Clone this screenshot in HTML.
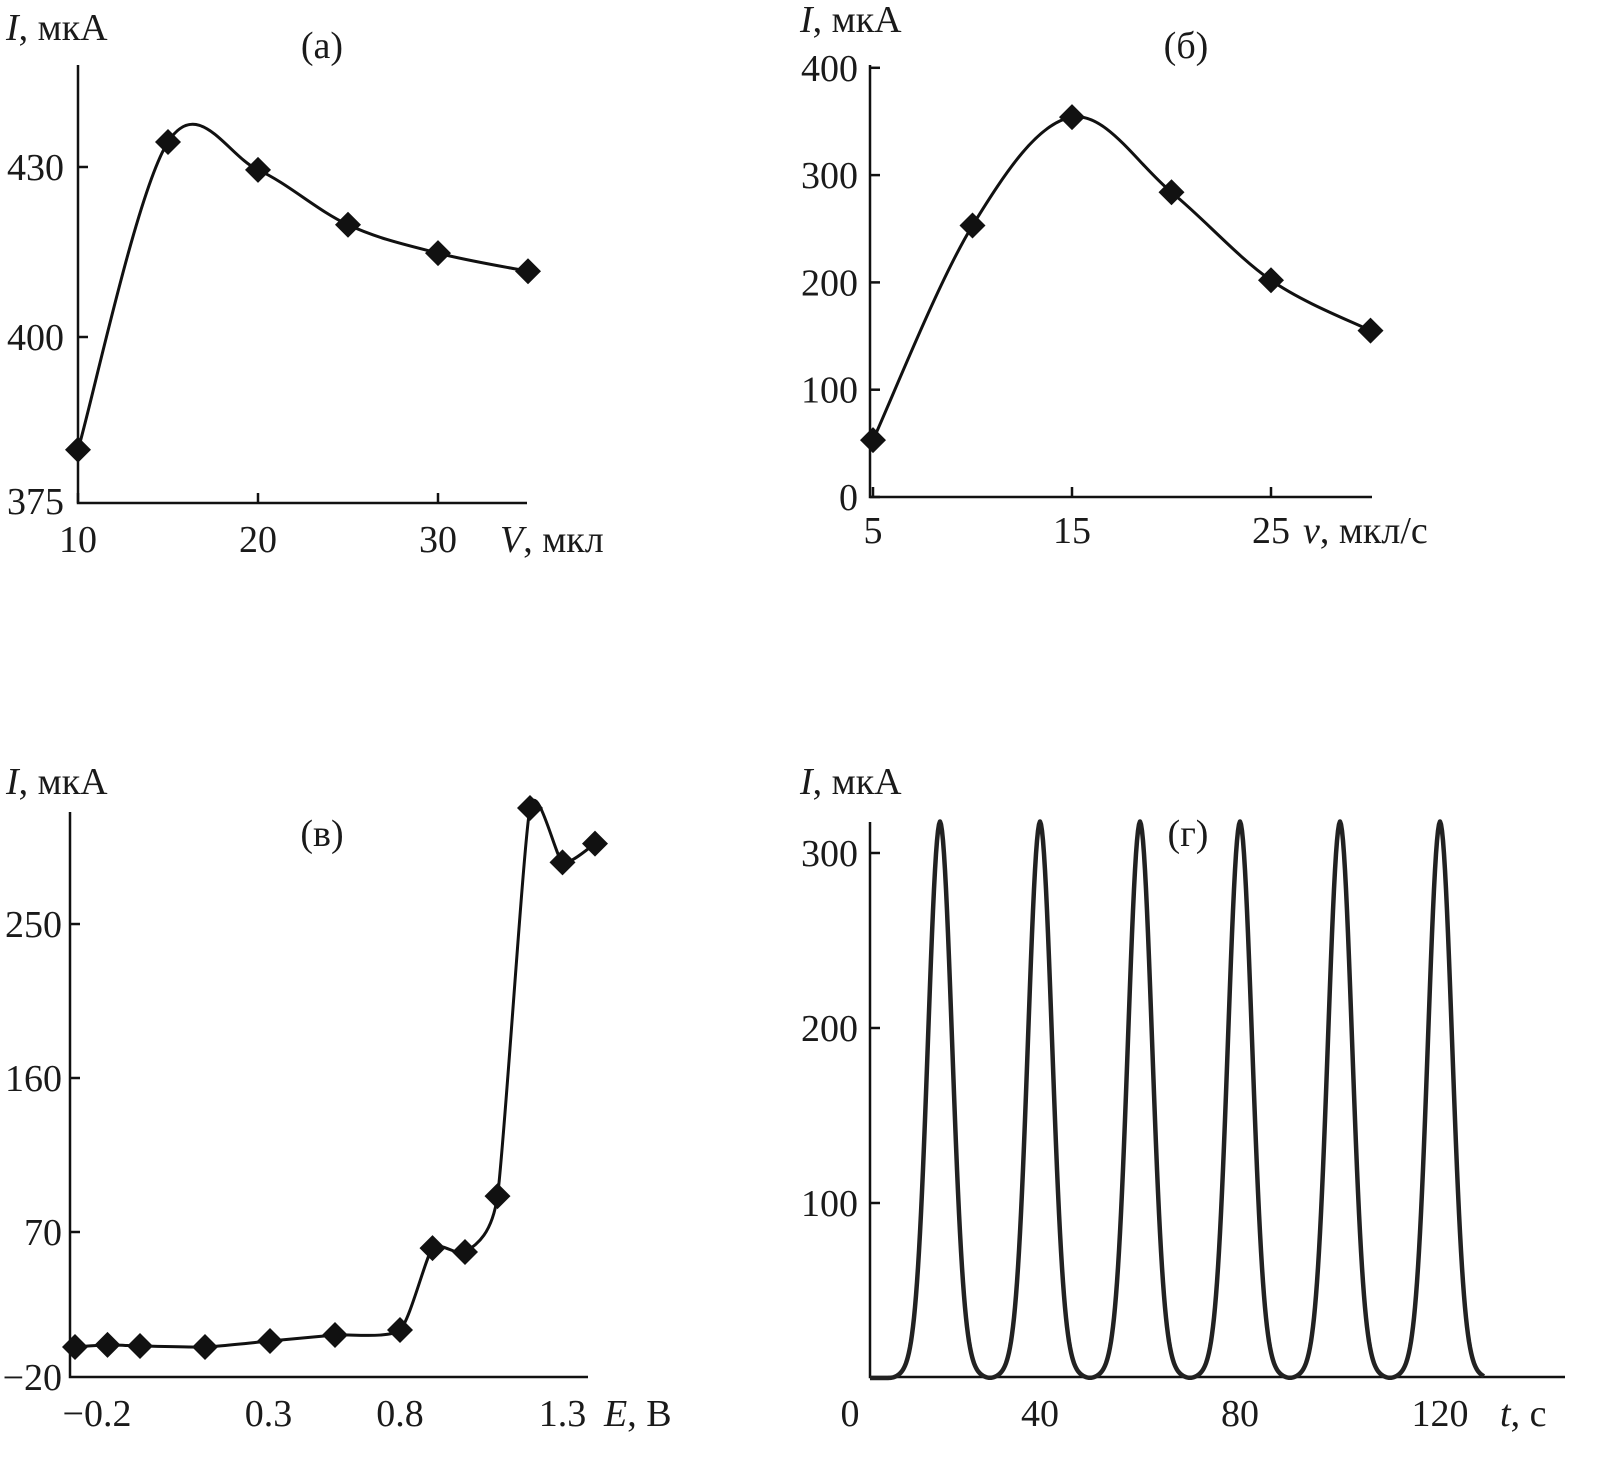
<!DOCTYPE html>
<html><head><meta charset="utf-8">
<style>
html,body{margin:0;padding:0;background:#fff;}
svg{display:block;}
text{font-family:"Liberation Serif",serif;font-size:38px;fill:#1a1a1a;}
.it{font-style:italic;}
</style></head>
<body>
<svg id="chart" width="1600" height="1466" viewBox="0 0 1600 1466" xmlns="http://www.w3.org/2000/svg"></svg>
<script>
// Panel (a)
const aX = [10, 15, 20, 25, 30, 35];
const aY = [380.1, 434.4, 429.5, 419.8, 414.8, 411.6];
const aXTicks = [10, 20, 30];
const aYTicks = [430, 400];
// Panel (б)
const bX = [5, 10, 15, 20, 25, 30];
const bY = [53, 253, 354, 284, 202, 155];
const bXTicks = [5, 15, 25];
const bYTicks = [0, 100, 200, 300, 400];
// Panel (в)
const cX = [-0.2, -0.1, 0, 0.2, 0.4, 0.6, 0.8, 0.9, 1.0, 1.1, 1.2, 1.3, 1.4];
const cY = [2.8, 4, 3.4, 2.8, 6.3, 9.8, 12.7, 60.6, 58.3, 91, 317.8, 286, 297];
const cXTicks = [-0.2, 0.3, 0.8, 1.3];
const cYTicks = [250, 160, 70, -20];
// Panel (г)
const dPeakTimes = [20, 40, 60, 80, 100, 120];
const dPeakHeights = [318, 318, 318, 318, 318, 318];
const dXTicks = [0, 40, 80, 120];
const dYTicks = [100, 200, 300];

const svg = document.getElementById('chart');
const NS = 'http://www.w3.org/2000/svg';
function mk(tag, attrs, parent){
  const e = document.createElementNS(NS, tag);
  for (const k in attrs) e.setAttribute(k, attrs[k]);
  (parent||svg).appendChild(e);
  return e;
}
function txt(s, x, y, anchor, cls, parent){
  const t = mk('text', {x:x, y:y, 'text-anchor':anchor||'middle'}, parent);
  if (cls) t.setAttribute('class', cls);
  t.textContent = s;
  return t;
}
function smooth(pts, t){
  let d = 'M' + pts[0][0] + ',' + pts[0][1];
  for (let i=0;i<pts.length-1;i++){
    const p0 = pts[i-1]||pts[i], p1=pts[i], p2=pts[i+1], p3=pts[i+2]||p2;
    const c1=[p1[0]+(p2[0]-p0[0])*t, p1[1]+(p2[1]-p0[1])*t];
    const c2=[p2[0]-(p3[0]-p1[0])*t, p2[1]-(p3[1]-p1[1])*t];
    d += ' C'+c1[0]+','+c1[1]+' '+c2[0]+','+c2[1]+' '+p2[0]+','+p2[1];
  }
  return d;
}
function diamond(x,y,g){
  const r=13;
  const p = mk('polygon',{points:`${x},${y-r} ${x+r},${y} ${x},${y+r} ${x-r},${y}`, fill:'#111'}, g);
  
  
}
function axes(g, x0, yTop, yBot, xEnd){
  mk('path',{d:`M${x0},${yTop} L${x0},${yBot} L${xEnd},${yBot}`, fill:'none', stroke:'#111','stroke-width':2.5}, g);
}

// ---------- Panel a ----------
(function(){
  const g = mk('g',{});
  
  
  const sx = v => 78 + (v-10)*18.0;
  const sy = v => 337 - (v-400)*5.667;
  axes(g, 78, 65, 503, 527);
  aYTicks.forEach(v=>{ mk('line',{x1:78,x2:88,y1:sy(v),y2:sy(v),stroke:'#111','stroke-width':2.5},g); txt(String(v),64,sy(v)+13,'end',null,g); });
  txt('375',64,514,'end',null,g);
  aXTicks.forEach(v=>{ mk('line',{x1:sx(v),x2:sx(v),y1:503,y2:493,stroke:'#111','stroke-width':2.5},g); txt(String(v),sx(v),552,'middle',null,g); });
  const xl = txt('',500,552,'start',null,g); xl.innerHTML='<tspan class="it">V</tspan>, мкл';
  const yl = txt('',6,40,'start',null,g); yl.innerHTML='<tspan class="it">I</tspan>, мкА';
  txt('(а)',322,58,'middle',null,g);
  const pts = aX.map((x,i)=>[sx(x),sy(aY[i])]);
  const l = mk('path',{d:smooth(pts,0.17),fill:'none',stroke:'#111','stroke-width':3},g);
  
  
  pts.forEach(p=>diamond(p[0],p[1],g));
})();

// ---------- Panel b ----------
(function(){
  const g = mk('g',{});
  
  
  const sx = v => 873 + (v-5)*19.9;
  const sy = v => 497 - v*1.073;
  axes(g, 870, 65, 497, 1372);
  bYTicks.forEach(v=>{ mk('line',{x1:870,x2:880,y1:sy(v),y2:sy(v),stroke:'#111','stroke-width':2.5},g); txt(String(v),858,sy(v)+13,'end',null,g); });
  bXTicks.forEach(v=>{ mk('line',{x1:sx(v),x2:sx(v),y1:497,y2:487,stroke:'#111','stroke-width':2.5},g); txt(String(v),sx(v),543,'middle',null,g); });
  const xl = txt('',1303,543,'start',null,g); xl.innerHTML='<tspan class="it">v</tspan>, мкл/с';
  const yl = txt('',800,32,'start',null,g); yl.innerHTML='<tspan class="it">I</tspan>, мкА';
  txt('(б)',1186,58,'middle',null,g);
  const pts = bX.map((x,i)=>[sx(x),sy(bY[i])]);
  const l = mk('path',{d:smooth(pts,0.17),fill:'none',stroke:'#111','stroke-width':3},g);
  
  
  pts.forEach(p=>diamond(p[0],p[1],g));
})();

// ---------- Panel c ----------
(function(){
  const g = mk('g',{});
  
  
  const sx = v => 400 + (v-0.8)*325;
  const sy = v => 1232 - (v-70)*1.711;
  axes(g, 70, 812, 1377, 588);
  cYTicks.forEach(v=>{ if(v>-20) mk('line',{x1:70,x2:80,y1:sy(v),y2:sy(v),stroke:'#111','stroke-width':2.5},g); txt(String(v).replace('-','\u2212'),62,Math.min(sy(v),1377)+13,'end',null,g); });
  cXTicks.forEach((v,i)=>{ txt(String(v).replace('-','\u2212'),sx(v)+(i===0?22:(i===1?31:0)),1426,'middle',null,g); });
  const xl = txt('',604,1426,'start',null,g); xl.innerHTML='<tspan class="it">E</tspan>, В';
  const yl = txt('',6,794,'start',null,g); yl.innerHTML='<tspan class="it">I</tspan>, мкА';
  txt('(в)',322,846,'middle',null,g);
  const pts = cX.map((x,i)=>[sx(x),sy(cY[i])]);
  const l = mk('path',{d:smooth(pts,0.1),fill:'none',stroke:'#111','stroke-width':3},g);
  
  
  pts.forEach(p=>diamond(p[0],p[1],g));
})();

// ---------- Panel d ----------
(function(){
  const g = mk('g',{});
  
  
  const sx = v => 840 + v*5;
  const sy = v => 1378 - v*1.75;
  axes(g, 870, 822, 1377, 1565);
  dYTicks.forEach(v=>{ mk('line',{x1:870,x2:880,y1:sy(v),y2:sy(v),stroke:'#111','stroke-width':2.5},g); txt(String(v),858,sy(v)+13,'end',null,g); });
  dXTicks.forEach(v=>{ txt(String(v),v===0?850:sx(v),1426,'middle',null,g); });
  const xl = txt('',1500,1426,'start',null,g); xl.innerHTML='<tspan class="it">t</tspan>, с';
  const yl = txt('',800,794,'start',null,g); yl.innerHTML='<tspan class="it">I</tspan>, мкА';
  txt('(г)',1188,846,'middle',null,g);
  function f(t){
    let s=0;
    dPeakTimes.forEach((p,i)=>{
      const d=t-p;
      const core=Math.exp(-0.5*Math.pow(d/2.4,2));
      let sh=0;
      if(Math.abs(d)<10) sh=0.06*Math.pow(1-Math.abs(d)/10,1.6);
      s+=dPeakHeights[i]*(core*0.94+sh);
    });
    return Math.max(0,s);
  }
  let d='';
  for(let t=6;t<=129;t+=0.2){ d+=(d?' L':'M')+sx(t).toFixed(1)+','+sy(f(t)).toFixed(1); }
  const l = mk('path',{d:d,fill:'none',stroke:'#222','stroke-width':4.5,'stroke-linejoin':'round'},g);
  
  
})();
</script>
</body></html>
